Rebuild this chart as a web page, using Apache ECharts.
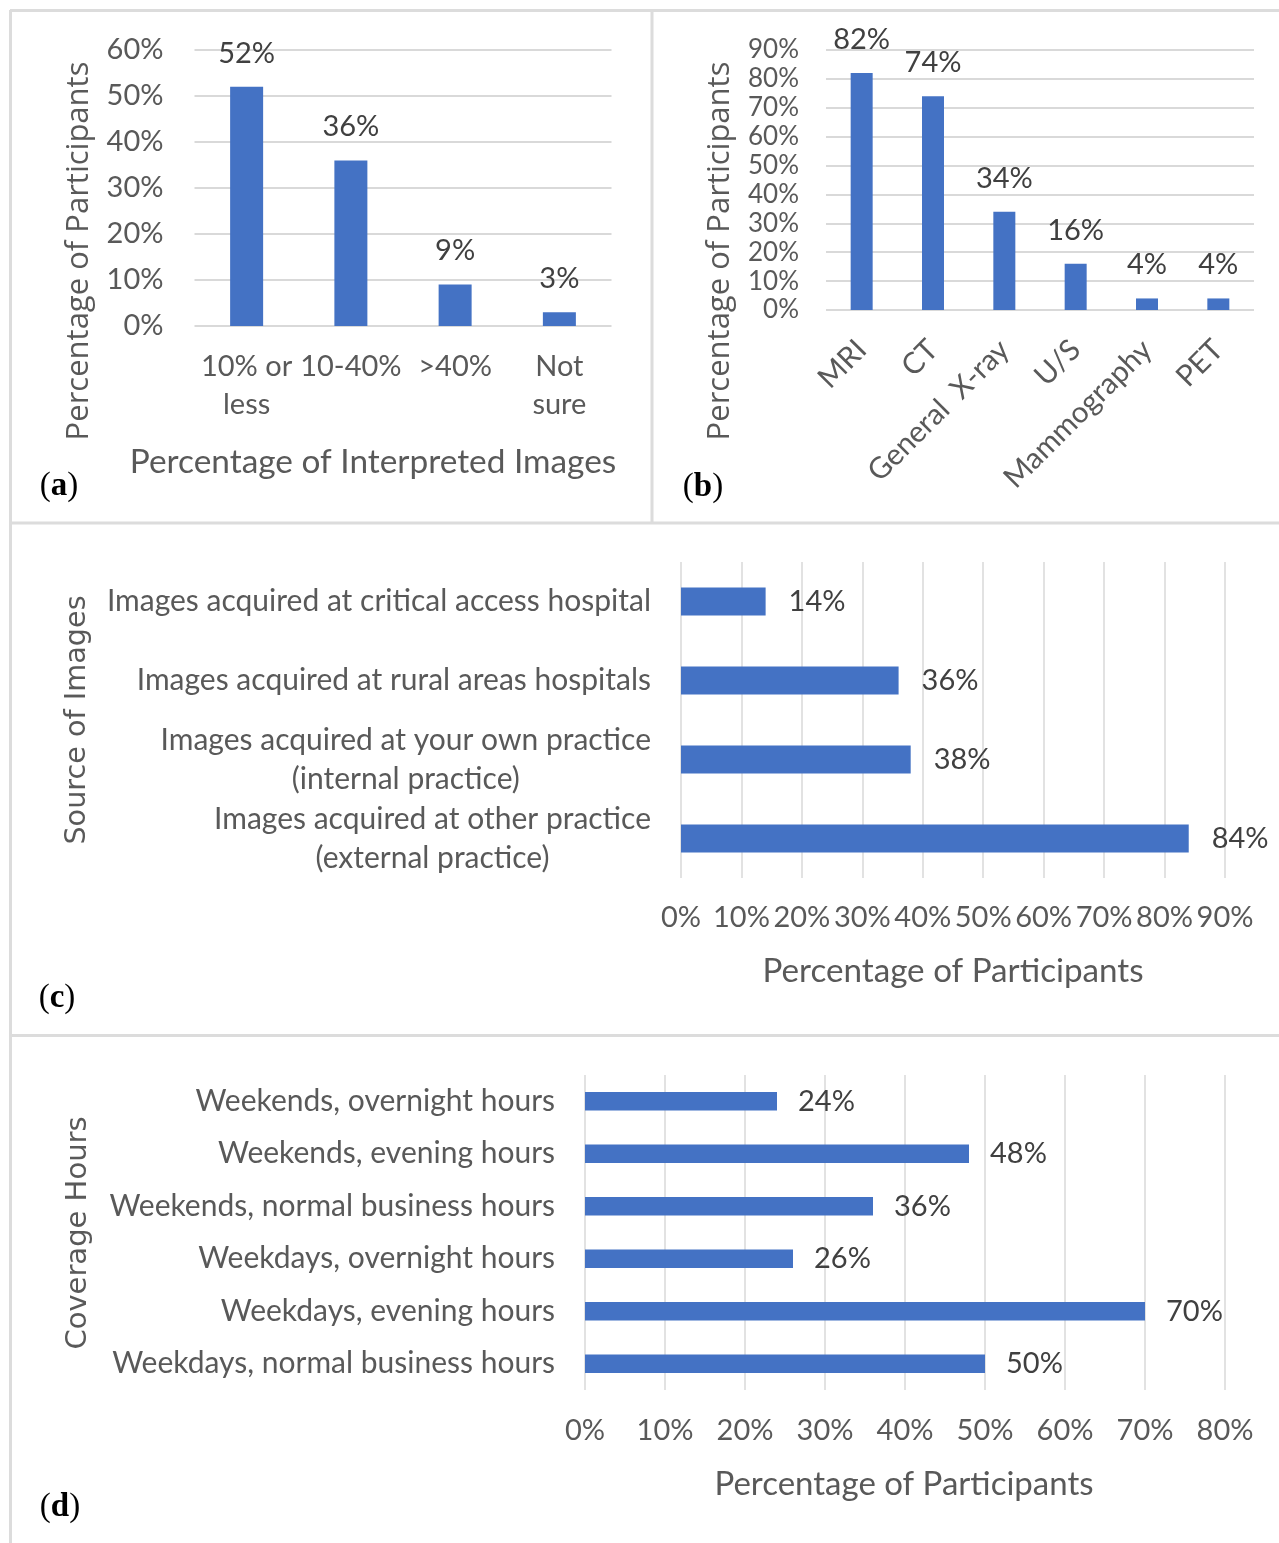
<!DOCTYPE html>
<html>
<head>
<meta charset="utf-8">
<script src="https://cdn.jsdelivr.net/npm/echarts@6/dist/echarts.min.js"></script>
<style>
html,body{margin:0;padding:0;background:#fff;}
#chart{width:1279px;height:1543px;}
</style>
</head>
<body>
<div id="chart"></div>
<script>
// ---------- data ----------
const catsA = ['10% or\nless', '10-40%', '>40%', 'Not\nsure'];
const valsA = [52, 36, 9, 3];

const catsB = ['MRI', 'CT', 'General  X-ray', 'U/S', 'Mammography', 'PET'];
const valsB = [82, 74, 34, 16, 4, 4];

const catsC = [
  'Images acquired at critical access hospital',
  'Images acquired at rural areas hospitals',
  'Images acquired at your own practice\n(internal practice)',
  'Images acquired at other practice\n(external practice)'
];
const valsC = [14, 36, 38, 84];

const catsD = [
  'Weekends, overnight hours',
  'Weekends, evening hours',
  'Weekends, normal business hours',
  'Weekdays, overnight hours',
  'Weekdays, evening hours',
  'Weekdays, normal business hours'
];
const valsD = [24, 48, 36, 26, 70, 50];

const titleA_x = 'Percentage of Interpreted Images';
const titleAB_y = 'Percentage of Participants';
const titleC_y = 'Source of Images';
const titleD_y = 'Coverage Hours';
const titleCD_x = 'Percentage of Participants';

// ---------- style ----------
const F = 'Lato, "Noto Sans", sans-serif';
const TICK = '#595959';
const LBL = '#404040';
const GRID = '#d9d9d9';
const BAR = '#4472C4';
const BORDER = '#dcdcdc';

const chart = echarts.init(document.getElementById('chart'), null, {renderer: 'canvas'});

function pct(v) { return v + '%'; }
function valueAxisCommon(gridIndex, max, size, margin, lw) {
  return {
    type: 'value', gridIndex: gridIndex, min: 0, max: max, interval: 10,
    axisLine: {show: false}, axisTick: {show: false},
    splitLine: {show: true, lineStyle: {color: GRID, width: lw}},
    axisLabel: {formatter: '{value}%', color: TICK, fontFamily: F, fontSize: size, margin: margin, lineHeight: size + 1}
  };
}

function centered(v) {
  return v.split('\n').map(function (l) { return '{m|' + l + '}'; }).join('\n');
}

function panelLabel(letter, x, y) {
  return {
    type: 'text', x: x, y: y,
    style: {
      text: '{n|(}{b|' + letter + '}{n|)}',
      textAlign: 'center', textVerticalAlign: 'middle',
      rich: {
        n: {fontFamily: '"Liberation Serif", serif', fontSize: 33, fill: '#000', fontWeight: 'normal'},
        b: {fontFamily: '"Liberation Serif", serif', fontSize: 33, fill: '#000', fontWeight: 'bold'}
      }
    }
  };
}

function textEl(txt, x, y, size, family, rot) {
  return {
    type: 'text', x: x, y: y, rotation: rot || 0,
    style: {text: txt, fontFamily: family, fontSize: size, fill: TICK, textAlign: 'center', textVerticalAlign: 'middle'}
  };
}

function line(x1, y1, x2, y2) {
  return {type: 'line', shape: {x1: x1, y1: y1, x2: x2, y2: y2}, style: {stroke: BORDER, lineWidth: 3}, silent: true};
}

const option = {
  backgroundColor: '#fff',
  animation: false,
  grid: [
    {left: 194.5, top: 50, width: 417, height: 276},
    {left: 826, top: 50, width: 428, height: 260},
    {left: 681, top: 562, width: 544, height: 316},
    {left: 585, top: 1075, width: 640, height: 315}
  ],
  xAxis: [
    {
      type: 'category', gridIndex: 0, data: catsA,
      axisLine: {show: false}, axisTick: {show: false}, splitLine: {show: false},
      axisLabel: {interval: 0, color: TICK, fontFamily: F, fontSize: 29, lineHeight: 38, margin: 22}
    },
    {
      type: 'category', gridIndex: 1, data: catsB,
      axisLine: {show: false}, axisTick: {show: false}, splitLine: {show: false},
      axisLabel: {interval: 0, rotate: 45, color: TICK, fontFamily: F, fontSize: 29.5, margin: 35}
    },
    valueAxisCommon(2, 90, 29, 25, 1.5),
    valueAxisCommon(3, 80, 29, 26, 1.5)
  ],
  yAxis: [
    valueAxisCommon(0, 60, 29, 31, 2),
    valueAxisCommon(1, 90, 26, 27, 2),
    {
      type: 'category', gridIndex: 2, data: catsC, inverse: true,
      axisLine: {show: false}, axisTick: {show: false}, splitLine: {show: false},
      axisLabel: {
        interval: 0, color: TICK, fontFamily: F, fontSize: 30, margin: 30, align: 'right',
        formatter: centered,
        rich: {m: {align: 'center', color: TICK, fontFamily: F, fontSize: 30, lineHeight: 39}}
      }
    },
    {
      type: 'category', gridIndex: 3, data: catsD, inverse: true,
      axisLine: {show: false}, axisTick: {show: false}, splitLine: {show: false},
      axisLabel: {interval: 0, color: TICK, fontFamily: F, fontSize: 30, margin: 30}
    }
  ],
  series: [
    {
      type: 'bar', xAxisIndex: 0, yAxisIndex: 0, data: valsA, barWidth: 33,
      itemStyle: {color: BAR},
      label: {show: true, position: 'top', distance: 19, formatter: function (p) { return pct(p.value); }, color: LBL, fontFamily: F, fontSize: 29}
    },
    {
      type: 'bar', xAxisIndex: 1, yAxisIndex: 1, data: valsB, barWidth: 22,
      itemStyle: {color: BAR},
      label: {show: true, position: 'top', distance: 19, formatter: function (p) { return pct(p.value); }, color: LBL, fontFamily: F, fontSize: 29}
    },
    {
      type: 'bar', xAxisIndex: 2, yAxisIndex: 2, data: valsC, barWidth: 28,
      itemStyle: {color: BAR},
      label: {show: true, position: 'right', distance: 23, formatter: function (p) { return pct(p.value); }, color: LBL, fontFamily: F, fontSize: 29}
    },
    {
      type: 'bar', xAxisIndex: 3, yAxisIndex: 3, data: valsD, barWidth: 18.5,
      itemStyle: {color: BAR},
      label: {show: true, position: 'right', distance: 21, formatter: function (p) { return pct(p.value); }, color: LBL, fontFamily: F, fontSize: 29}
    }
  ],
  graphic: [
    line(10, 10.5, 1279, 10.5),
    line(10.5, 10, 10.5, 1543),
    line(652, 10, 652, 523),
    line(10, 523, 1279, 523),
    line(10, 1035.5, 1279, 1035.5),
    textEl(titleAB_y, 79, 251, 31, '"Open Sans", sans-serif', Math.PI / 2),
    textEl(titleAB_y, 720, 251, 31, '"Open Sans", sans-serif', Math.PI / 2),
    textEl(titleC_y, 78, 720, 28.7, '"DejaVu Sans", sans-serif', Math.PI / 2),
    textEl(titleD_y, 78, 1233, 29, '"DejaVu Sans", sans-serif', Math.PI / 2),
    textEl(titleA_x, 373, 462, 33.4, F, 0),
    textEl(titleCD_x, 953, 971, 33.2, F, 0),
    textEl(titleCD_x, 904, 1484, 33, F, 0),
    panelLabel('a', 59, 486),
    panelLabel('b', 703, 487),
    panelLabel('c', 57, 998),
    panelLabel('d', 60, 1507)
  ]
};
chart.setOption(option);
</script>
</body>
</html>
